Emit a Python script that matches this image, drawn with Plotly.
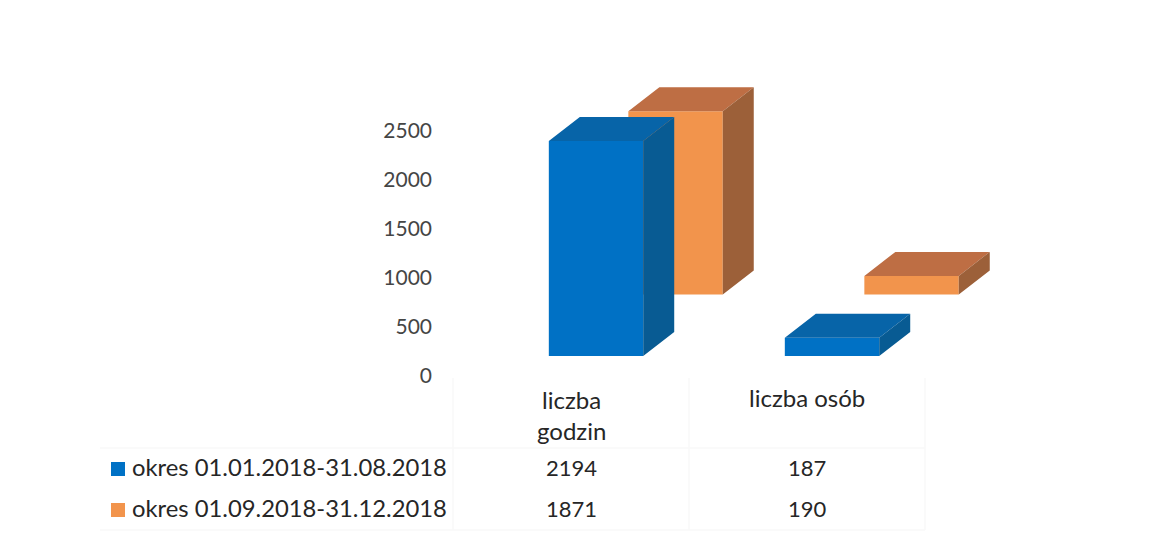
import plotly.graph_objects as go

# --- data ---
categories = ["liczba<br>godzin", "liczba osób"]
series_names = ["okres 01.01.2018-31.08.2018", "okres 01.09.2018-31.12.2018"]
values_a = [2194, 187]
values_b = [1871, 190]
y_ticks = [0, 500, 1000, 1500, 2000, 2500]

# --- styles / layout constants ---
PAGE_W, PAGE_H = 1154, 544
BODY = 8              # browser body margin around the figure
W, H = PAGE_W - 2 * BODY, PAGE_H - 2 * BODY
FONT = "Lato, Carlito, Calibri, sans-serif"
COL_PX = 236          # width of one category in pixels
TABLE_LEFT = 453      # page x of first category edge
ZERO_PX = 376         # page y of value 0
PX_PER_UNIT = 0.098   # pixels per value unit
AXIS_PX = 432         # page x of the value axis
BAR_W = 0.4
DEPTH_X = 31 / COL_PX
DEPTH_Y = 24 / PX_PER_UNIT


def xp(px):
    return (px - TABLE_LEFT) / COL_PX


def yp(px):
    return (ZERO_PX - px) / PX_PER_UNIT


styles = [
    dict(name=series_names[1], values=values_b, offset=0.943, floor=yp(294.5),
         front="#F2944C", top="#BE6E44", side="#9C6039"),
    dict(name=series_names[0], values=values_a, offset=0.606, floor=yp(356),
         front="#0071C5", top="#0764A8", side="#085B93"),
]

fig = go.Figure()

for s in styles:
    xc = [i + s["offset"] for i in range(len(s["values"]))]
    fig.add_trace(go.Bar(
        x=xc, y=s["values"], base=[s["floor"]] * len(xc),
        width=BAR_W, marker=dict(color=s["front"], line=dict(width=0)),
        name=s["name"], showlegend=False, hoverinfo="name+y",
    ))
    top_x, top_y, side_x, side_y = [], [], [], []
    for c, v in zip(xc, s["values"]):
        l, r = c - BAR_W / 2, c + BAR_W / 2
        y0, y1 = s["floor"], s["floor"] + v
        top_x += [l, r, r + DEPTH_X, l + DEPTH_X, l, None]
        top_y += [y1, y1, y1 + DEPTH_Y, y1 + DEPTH_Y, y1, None]
        side_x += [r, r + DEPTH_X, r + DEPTH_X, r, r, None]
        side_y += [y0, y0 + DEPTH_Y, y1 + DEPTH_Y, y1, y0, None]
    for px_, py_, col in ((top_x, top_y, s["top"]), (side_x, side_y, s["side"])):
        fig.add_trace(go.Scatter(
            x=px_, y=py_, mode="lines", fill="toself", fillcolor=col,
            line=dict(width=0, color=col), showlegend=False, hoverinfo="skip",
        ))

# legend keys in the data table
fig.add_trace(go.Scatter(
    x=[xp(118), xp(118)], y=[yp(469), yp(510)], mode="markers",
    marker=dict(symbol="square", size=14, color=["#0071C5", "#F2944C"], line=dict(width=0)),
    showlegend=False, hoverinfo="skip",
))


def note(text, px, py, anchor="center", size=24, color="#262626"):
    fig.add_annotation(text=text, x=xp(px), y=yp(py), xref="x", yref="y", showarrow=False,
                       xanchor=anchor, yanchor="middle", align="center",
                       font=dict(family=FONT, size=size, color=color))


centers = [TABLE_LEFT + COL_PX * (i + 0.5) for i in range(len(categories))]
note(series_names[0], 130, 467, "left", size=23.8)
note(series_names[1], 130, 508, "left", size=23.8)
for i, c in enumerate(centers):
    note(categories[i], c, 414.5 if "<br>" in categories[i] else 397)
    note(str(values_a[i]), c, 467, size=22)
    note(str(values_b[i]), c, 508, size=22)

# faint table rules of the scanned page
rule = dict(color="#f8f8f8", width=1.5)
for px in (453, 689, 925):
    fig.add_shape(type="line", x0=xp(px), x1=xp(px), y0=yp(378), y1=yp(530),
                  xref="x", yref="y", line=rule, layer="below")
for py in (448, 530):
    fig.add_shape(type="line", x0=xp(100), x1=xp(925), y0=yp(py), y1=yp(py),
                  xref="x", yref="y", line=rule, layer="below")

fig.update_layout(
    width=W, height=H, margin=dict(l=0, r=0, t=0, b=0),
    paper_bgcolor="white", plot_bgcolor="white", barmode="overlay", showlegend=False,
    xaxis=dict(visible=False, range=[xp(BODY), xp(BODY + W)], fixedrange=True),
    yaxis=dict(range=[yp(BODY + H), yp(BODY)], tickvals=y_ticks, showgrid=False, zeroline=False,
               showline=False, ticks="", fixedrange=True, anchor="free",
               position=(AXIS_PX - BODY) / W,
               tickfont=dict(family=FONT, size=21, color="#454545")),
)

fig.write_html("out.html")
